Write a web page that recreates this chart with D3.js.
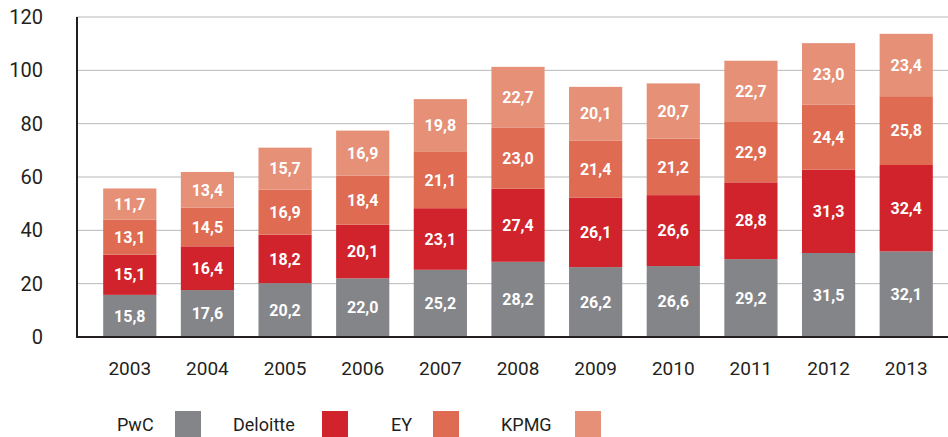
<!DOCTYPE html>
<html><head><meta charset="utf-8">
<script src="https://cdn.jsdelivr.net/npm/d3@7"></script>
<style>body{margin:0;background:#fff}svg{display:block;font-family:Roboto,"Open Sans",sans-serif}</style>
</head><body><svg id="c" width="948" height="437"></svg>
<script>
const years = ["2003","2004","2005","2006","2007","2008","2009","2010","2011","2012","2013"];
const seriesNames = ["PwC","Deloitte","EY","KPMG"];
const pwc      = [15.8,17.6,20.2,22.0,25.2,28.2,26.2,26.6,29.2,31.5,32.1];
const deloitte = [15.1,16.4,18.2,20.1,23.1,27.4,26.1,26.6,28.8,31.3,32.4];
const ey       = [13.1,14.5,16.9,18.4,21.1,23.0,21.4,21.2,22.9,24.4,25.8];
const kpmg     = [11.7,13.4,15.7,16.9,19.8,22.7,20.1,20.7,22.7,23.0,23.4];
const yTicks = [0,20,40,60,80,100,120];
const colors = ["#848589","#D0232B","#DE6B52","#E59077"];

const rows = years.map((y,i)=>({year:y,PwC:pwc[i],Deloitte:deloitte[i],EY:ey[i],KPMG:kpmg[i]}));
const stack = d3.stack().keys(seriesNames)(rows);

const svg = d3.select("#c");
const x = d3.scaleBand().domain(years).range([91,945]).paddingInner(0.315).paddingOuter(0.157);
const y = d3.scaleLinear().domain([0,120]).range([337,17]);

// gridlines
svg.append("g").selectAll("line").data(yTicks.filter(t=>t>0)).join("line")
  .attr("x1",77).attr("x2",948).attr("y1",d=>y(d)).attr("y2",d=>y(d))
  .attr("stroke","#b8b8b8").attr("stroke-width",1);

// y labels
svg.append("g").selectAll("text").data(yTicks).join("text")
  .attr("x",43).attr("y",d=>y(d)).attr("dy","0.35em").attr("text-anchor","end")
  .attr("font-size",20).attr("fill","#231f20").text(d=>d);

// bars
const g = svg.append("g");
stack.forEach((s,si)=>{
  const sg = g.append("g");
  sg.selectAll("rect").data(s).join("rect")
    .attr("x",d=>x(d.data.year)).attr("width",x.bandwidth())
    .attr("y",d=>y(d[1])).attr("height",d=>y(d[0])-y(d[1]))
    .attr("fill",colors[si]);
  sg.selectAll("text").data(s).join("text")
    .attr("x",d=>x(d.data.year)+x.bandwidth()/2)
    .attr("y",d=>(y(d[0])+y(d[1]))/2).attr("dy","0.36em")
    .attr("text-anchor","middle").attr("font-size",16).attr("font-weight","bold")
    .attr("fill","#fff").text(d=>d3.format(".1f")(d[1]-d[0]).replace(".",","));
});

// axes lines
svg.append("line").attr("x1",77).attr("x2",77).attr("y1",17).attr("y2",338)
  .attr("stroke","#231f20").attr("stroke-width",2);
svg.append("line").attr("x1",76).attr("x2",948).attr("y1",337).attr("y2",337)
  .attr("stroke","#231f20").attr("stroke-width",2);

// x labels
svg.append("g").selectAll("text").data(years).join("text")
  .attr("x",d=>x(d)+x.bandwidth()/2).attr("y",375).attr("text-anchor","middle")
  .attr("font-size",19).attr("fill","#231f20").text(d=>d);

// legend
const legX = [{t:117,s:175},{t:233,s:322},{t:391,s:433},{t:501,s:575}];
const lg = svg.append("g");
seriesNames.forEach((n,i)=>{
  lg.append("text").attr("x",legX[i].t).attr("y",431).attr("font-size",18)
    .attr("fill","#231f20").text(n);
  lg.append("rect").attr("x",legX[i].s).attr("y",411).attr("width",26).attr("height",26)
    .attr("fill",colors[i]);
});
</script></body></html>
